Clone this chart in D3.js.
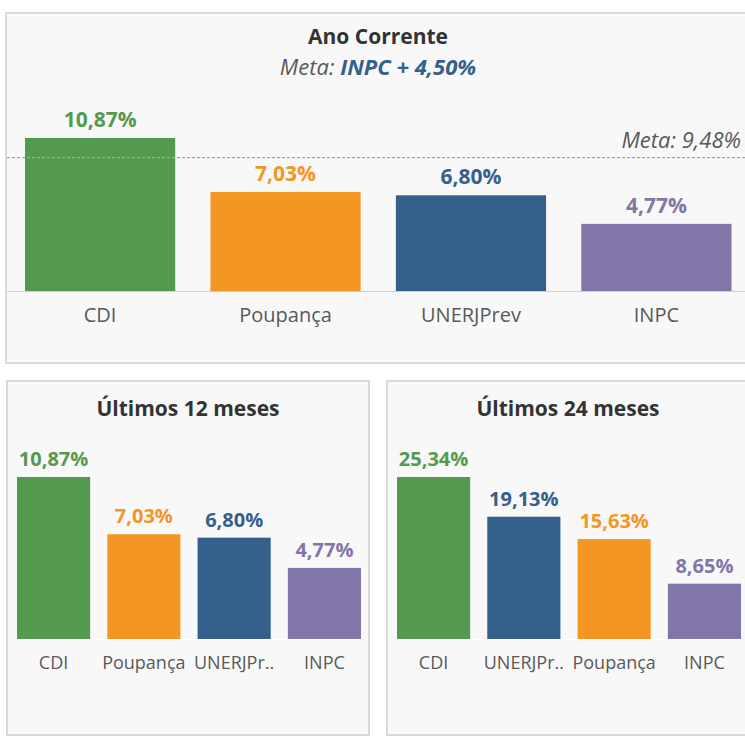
<!DOCTYPE html>
<html>
<head>
<meta charset="utf-8">
<script src="https://cdn.jsdelivr.net/npm/d3@7"></script>
<style>
  body { margin: 0; background: #ffffff; }
  svg { display: block; font-family: "Open Sans", Lato, sans-serif; }
</style>
</head>
<body>
<div id="chart"></div>
<script>
// data
var anoCats = ["CDI", "Poupança", "UNERJPrev", "INPC"];
var anoVals = [10.87, 7.03, 6.80, 4.77];
var metaAno = 9.48;

var m12Cats = ["CDI", "Poupança", "UNERJPr..", "INPC"];
var m12Vals = [10.87, 7.03, 6.80, 4.77];

var m24Cats = ["CDI", "UNERJPr..", "Poupança", "INPC"];
var m24Vals = [25.34, 19.13, 15.63, 8.65];

var colorOf = function(name) {
    if (name.indexOf("CDI") == 0) return "#539a4f";
    if (name.indexOf("Poup") == 0) return "#f39624";
    if (name.indexOf("UNERJ") == 0) return "#35608b";
    return "#8275a8";
};

var fmt = function(v) { return v.toFixed(2).replace(".", ",") + "%"; };

var svg = d3.select("#chart").append("svg")
    .attr("width", 745)
    .attr("height", 736);

// panel boxes
function box(x, y, w, h) {
    svg.append("rect")
        .attr("x", x).attr("y", y)
        .attr("width", w).attr("height", h)
        .attr("fill", "#f8f8f8")
        .attr("stroke", "#d9d9d9")
        .attr("stroke-width", 2);
}
box(6, 13, 760, 350);
box(7, 381, 362, 354);
box(387, 381, 380, 354);

function drawBars(cats, vals, opt) {
    var x = d3.scaleBand()
        .domain(cats)
        .range([opt.x0, opt.x1])
        .paddingInner(0.19)
        .paddingOuter(0);

    var y = d3.scaleLinear()
        .domain([0, d3.max(vals)])
        .range([opt.base, opt.base - opt.h]);

    var data = cats.map(function(c, i) { return { name: c, v: vals[i] }; });

    var g = svg.append("g");

    g.selectAll("rect.bar")
        .data(data)
        .enter()
        .append("rect")
        .attr("class", "bar")
        .attr("x", function(d) { return x(d.name); })
        .attr("y", function(d) { return y(d.v); })
        .attr("width", x.bandwidth())
        .attr("height", function(d) { return opt.base - y(d.v); })
        .attr("fill", function(d) { return colorOf(d.name); });

    // baseline
    g.append("line")
        .attr("x1", opt.lineX0).attr("x2", opt.lineX1)
        .attr("y1", opt.base + 0.5).attr("y2", opt.base + 0.5)
        .attr("stroke", opt.lineColor)
        .attr("stroke-width", 1);

    g.selectAll("text.val")
        .data(data)
        .enter()
        .append("text")
        .attr("class", "val")
        .attr("x", function(d) { return x(d.name) + x.bandwidth() / 2; })
        .attr("y", function(d) { return y(d.v) - 11; })
        .attr("text-anchor", "middle")
        .attr("font-size", opt.valSize)
        .attr("font-weight", "bold")
        .attr("fill", function(d) { return colorOf(d.name); })
        .text(function(d) { return fmt(d.v); });

    g.selectAll("text.cat")
        .data(data)
        .enter()
        .append("text")
        .attr("class", "cat")
        .attr("x", function(d) { return x(d.name) + x.bandwidth() / 2; })
        .attr("y", opt.catY)
        .attr("text-anchor", "middle")
        .attr("font-size", opt.catSize)
        .attr("fill", "#595959")
        .text(function(d) { return d.name; });

    return y;
}

// Ano Corrente
var yAno = drawBars(anoCats, anoVals, {
    x0: 25, x1: 731.5, base: 291, h: 153,
    lineX0: 7, lineX1: 745, lineColor: "#cfcfcf",
    valSize: 21, catSize: 20, catY: 322
});

svg.append("line")
    .attr("x1", 7).attr("x2", 745)
    .attr("y1", yAno(metaAno)).attr("y2", yAno(metaAno))
    .attr("stroke", "#a6a6a6")
    .attr("stroke-width", 1.3)
    .attr("stroke-dasharray", "3,2");

svg.append("text")
    .attr("x", 741)
    .attr("y", yAno(metaAno) - 10)
    .attr("text-anchor", "end")
    .attr("font-size", 22)
    .attr("font-style", "italic")
    .attr("fill", "#595959")
    .text("Meta: " + fmt(metaAno));

svg.append("text")
    .attr("x", 378).attr("y", 44)
    .attr("text-anchor", "middle")
    .attr("font-size", 21)
    .attr("font-weight", "bold")
    .attr("fill", "#333333")
    .text("Ano Corrente");

var sub = svg.append("text")
    .attr("x", 378).attr("y", 75)
    .attr("text-anchor", "middle")
    .attr("font-size", 22)
    .attr("font-style", "italic");
sub.append("tspan").attr("fill", "#595959").text("Meta: ");
sub.append("tspan").attr("fill", "#35608b").attr("font-weight", "bold").text("INPC + 4,50%");

// Últimos 12 meses
drawBars(m12Cats, m12Vals, {
    x0: 17, x1: 361, base: 639, h: 162,
    lineX0: 17, lineX1: 361, lineColor: "#ffffff",
    valSize: 20, catSize: 18, catY: 669
});
svg.append("text")
    .attr("x", 188).attr("y", 416)
    .attr("text-anchor", "middle")
    .attr("font-size", 21)
    .attr("font-weight", "bold")
    .attr("fill", "#333333")
    .text("Últimos 12 meses");

// Últimos 24 meses
drawBars(m24Cats, m24Vals, {
    x0: 397, x1: 741, base: 639, h: 162,
    lineX0: 397, lineX1: 741, lineColor: "#ffffff",
    valSize: 20, catSize: 18, catY: 669
});
svg.append("text")
    .attr("x", 568).attr("y", 416)
    .attr("text-anchor", "middle")
    .attr("font-size", 21)
    .attr("font-weight", "bold")
    .attr("fill", "#333333")
    .text("Últimos 24 meses");
</script>
</body>
</html>
